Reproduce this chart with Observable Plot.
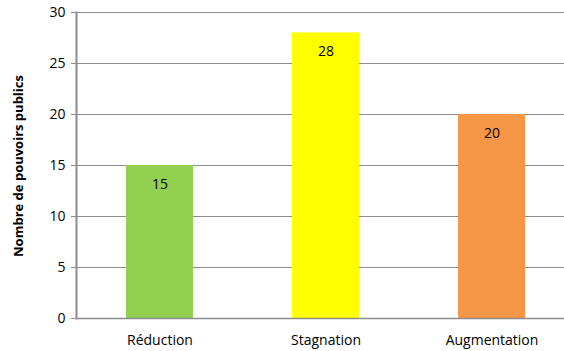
<!DOCTYPE html>
<html>
<head>
<meta charset="utf-8">
<script src="https://cdn.jsdelivr.net/npm/d3@7"></script>
<script src="https://cdn.jsdelivr.net/npm/@observablehq/plot@0.6"></script>
<style>
  html, body { margin: 0; padding: 0; background: #fff; }
  #chart svg { display: block; }
</style>
</head>
<body>
<div id="chart"></div>
<script>
// Number of public authorities by trend
const categories = ["Réduction", "Stagnation", "Augmentation"];
const values = [15, 28, 20];
const colors = ["#92D050", "#FFFF00", "#F79646"];
const yTicks = [0, 5, 10, 15, 20, 25, 30];

const data = categories.map((c, i) => ({category: c, value: values[i], color: colors[i]}));

const font = "'Open Sans', 'Noto Sans', sans-serif";

const chart = Plot.plot({
  width: 564,
  height: 351,
  marginTop: 12,
  marginBottom: 33,
  marginLeft: 76,
  marginRight: 0,
  style: {fontFamily: font, fontSize: "13px", color: "#000", background: "#fff"},
  x: {
    domain: categories,
    range: [77, 575],
    paddingInner: 0.596,
    paddingOuter: 0.298,
    label: null
  },
  y: {
    domain: [0, 30],
    ticks: yTicks,
    label: null
  },
  color: {type: "identity"},
  marks: [
    Plot.gridY(yTicks, {stroke: "#8c8c8c", strokeOpacity: 1, strokeWidth: 1.2}),
    Plot.barY(data, {x: "category", y: "value", fill: "color"}),
    Plot.text(data, {x: "category", y: "value", text: d => String(d.value), dy: 19, fontSize: 14, fill: "#000"}),
    Plot.ruleY([0], {stroke: "#8c8c8c", strokeWidth: 1.5}),
    Plot.axisY(yTicks, {tickSize: 5, tickPadding: 6, fontSize: 14, stroke: "#8c8c8c", label: null}),
    Plot.axisX({tickSize: 0, tickPadding: 17, fontSize: 14, label: null}),
    Plot.frame({anchor: "left", stroke: "#8c8c8c", strokeWidth: 2})
  ]
});

// Vertical axis title
d3.select(chart).append("text")
  .attr("transform", "translate(20,166) rotate(-90)")
  .attr("text-anchor", "middle")
  .attr("dominant-baseline", "middle")
  .style("font-family", font)
  .style("font-size", "13px")
  .style("font-weight", "bold")
  .text("Nombre de pouvoirs publics");

document.getElementById("chart").appendChild(chart);
</script>
</body>
</html>
